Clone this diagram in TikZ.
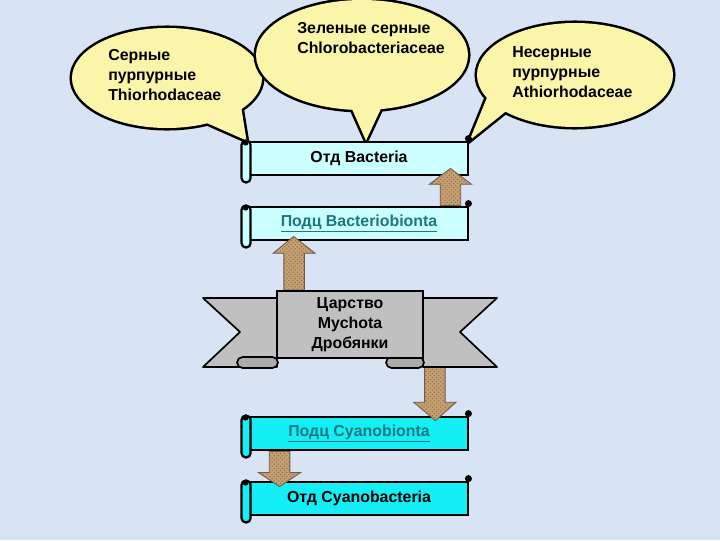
\documentclass[tikz,border=0pt]{standalone}
\usepackage{fontspec}
\setmainfont{Liberation Sans}
\usetikzlibrary{calc,patterns}
\definecolor{bgc}{RGB}{216,227,243}
\definecolor{callc}{RGB}{250,245,168}
\definecolor{lcyan}{RGB}{204,255,255}
\definecolor{bcyan}{RGB}{20,238,245}
\definecolor{arrc}{RGB}{196,160,115}
\definecolor{arrd}{RGB}{110,90,70}
\definecolor{arrp}{RGB}{140,105,70}
\definecolor{ribc}{RGB}{192,192,192}
\definecolor{foldc}{RGB}{172,172,172}
\definecolor{linkc}{RGB}{25,120,128}
\pgfdeclarelayer{lA}\pgfdeclarelayer{lB}\pgfdeclarelayer{lC}\pgfdeclarelayer{lD}
\pgfsetlayers{main,lA,lB,lC,lD}
\newcommand{\callout}[7]{% center, rx, ry, base1, tip, base2
  \path[draw=black, line width=3.6pt, line join=round] #1 ellipse [x radius=#2, y radius=#3];
  \path[draw=black, line width=3.6pt, line join=miter] #4 -- #5 -- #6;
  \fill[callc] #1 ellipse [x radius=#2, y radius=#3];
  \fill[callc] #4 -- #5 -- #6 -- cycle;}
\newcommand{\scrl}[4]{%
  \node[sbox, fill=#3] (#1) at (359,#2) {#4};
  \draw[line width=1.6pt, fill=#3, rounded corners=3pt] ($(#1.north west)+(-7,0)$) rectangle ($(#1.south west)+(2,6)$);
  \fill ($(#1.north west)+(-3,2)$) circle[radius=3];
  \fill ($(#1.north east)+(-1,-2)$) circle[radius=3.5];}
\newcommand{\barr}[3]{%
  \draw[arrst] let \p1=(#1), \p2=(#2) in
    ({\x1-7.3pt},{\y1}) -- ({\x1-7.3pt},{\y2-(#3)}) -- ({\x1-15pt},{\y2-(#3)}) -- (\x2,\y2)
    -- ({\x1+15pt},{\y2-(#3)}) -- ({\x1+7.3pt},{\y2-(#3)}) -- ({\x1+7.3pt},{\y1}) -- cycle;}
\tikzset{
  sbox/.style={draw=black, line width=2pt, minimum width=5.45cm, minimum height=0.825cm, inner sep=0pt,
    font=\bfseries\fontsize{11.3}{12}\selectfont},
  ctext/.style={align=left, inner sep=0pt, font=\bfseries\fontsize{11.3}{14.2}\selectfont},
  arrst/.style={fill=arrc, draw=arrd, line width=0.6pt,
    postaction={pattern=crosshatch dots, pattern color=arrp}},
  ribst/.style={draw=black, line width=1.2pt, fill=ribc, minimum width=3.65cm, minimum height=1.675cm,
    inner sep=0pt, align=center, font=\bfseries\fontsize{11.3}{14.2}\selectfont},
  ribpart/.style={draw=black, line width=1.2pt, line join=round}
}
\begin{document}
\begin{tikzpicture}[x=0.025cm, y=-0.025cm]
\fill[bgc] (0,0) rectangle (720,540);
\useasboundingbox (0,0) rectangle (720,540);
% scroll boxes
\begin{pgfonlayer}{lA}
\scrl{bact}{158.5}{lcyan}{Отд Bacteria}
\scrl{cbac}{498.5}{bcyan}{Отд Cyanobacteria}
\end{pgfonlayer}
\begin{pgfonlayer}{lC}
\scrl{bbio}{223.5}{lcyan}{\color{linkc}\underline{Подц Bacteriobionta}}
\scrl{cbio}{433.5}{bcyan}{\color{linkc}\underline{Подц Cyanobionta}}
\end{pgfonlayer}
% ribbon
\begin{pgfonlayer}{lD}
\fill[ribc, draw=black, line width=1.2pt, line join=round] (203,298) -- (277,298) -- (277,367) -- (203,367) -- (240,332) -- cycle;
\fill[ribc, draw=black, line width=1.2pt, line join=round] (497,298) -- (423,298) -- (423,367) -- (497,367) -- (460,332) -- cycle;
\draw[ribpart, fill=foldc, rounded corners=4pt] (237,357) rectangle (278,368);
\draw[ribpart, fill=foldc, rounded corners=4pt] (386,357) rectangle (424,368);
\node[ribst] (rib) at (350,324.5) {Царство\\Mychota\\Дробянки};
\end{pgfonlayer}
% callouts
\callout{(167,78)}{95}{50}{(200,120)}{($(bact.north west)+(-2,0)$)}{(240,100)}{}
\callout{(362,55)}{106}{55}{(348,100)}{($(bact.north)+(7,0)$)}{(385,100)}{}
\callout{(575,75)}{98}{52}{(488,95)}{(bact.north east)}{(510,108)}{}
\node[ctext, anchor=west] (t1) at (108,75) {Серные\\пурпурные\\Thiorhodaceae};
\node[ctext, anchor=west] (t2) at (297,38) {Зеленые серные\\Chlorobacteriaceae};
\node[ctext, anchor=west] (t3) at (512,72) {Несерные\\пурпурные\\Athiorhodaceae};
% arrows
\begin{pgfonlayer}{lB}
\barr{$(bbio.north east)+(-19,0)$}{$(bact.south east)+(-19,-8)$}{11.3pt}
\barr{$(cbio.south west)+(31,0)$}{$(cbac.north west)+(31,6)$}{-10pt}
\end{pgfonlayer}
\begin{pgfonlayer}{lC}
\barr{$(rib.north west)+(18,0)$}{$(bbio.south west)+(45,-5)$}{12pt}
\barr{$(rib.south east)+(11,0)$}{$(cbio.north east)+(-34,5)$}{-13pt}
\end{pgfonlayer}
\end{tikzpicture}
\end{document}
